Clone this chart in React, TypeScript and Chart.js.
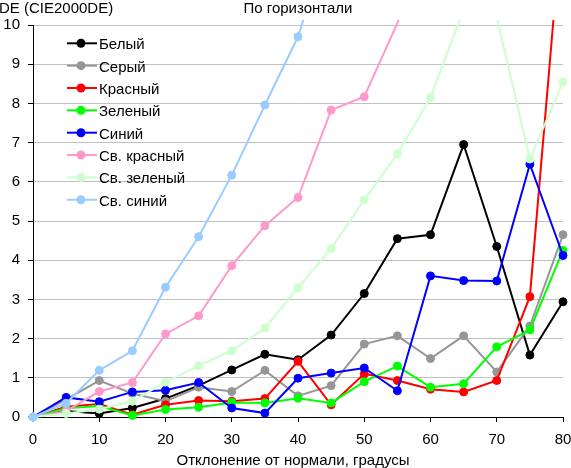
import { useEffect, useRef } from "react";
import { Chart, registerables, ChartConfiguration, Plugin } from "chart.js";

Chart.register(...registerables);

// углы отклонения, градусы
const angles = [0, 5, 10, 15, 20, 25, 30, 35, 40, 45, 50, 55, 60, 65, 70, 75, 80];

const seriesNames = [
	"Белый",
	"Серый",
	"Красный",
	"Зеленый",
	"Синий",
	"Св. красный",
	"Св. зеленый",
	"Св. синий",
];

const white = [0, 0.15, 0.09, 0.23, 0.47, 0.8, 1.2, 1.6, 1.46, 2.09, 3.15, 4.55, 4.65, 6.95, 4.35, 1.58, 2.94];
const gray = [0, 0.45, 0.93, 0.6, 0.4, 0.76, 0.65, 1.19, 0.54, 0.8, 1.86, 2.07, 1.49, 2.07, 1.15, 2.32, 4.65];
const red = [0, 0.26, 0.33, 0.06, 0.31, 0.42, 0.4, 0.47, 1.42, 0.31, 1.1, 0.93, 0.71, 0.64, 0.93, 3.07, 13];
const green = [0, 0.22, 0.28, 0.04, 0.19, 0.25, 0.37, 0.36, 0.48, 0.36, 0.9, 1.3, 0.76, 0.85, 1.79, 2.22, 4.25];
const blue = [0, 0.5, 0.39, 0.64, 0.68, 0.88, 0.23, 0.1, 0.99, 1.12, 1.25, 0.67, 3.6, 3.48, 3.47, 6.45, 4.12];
const lightRed = [0, 0.15, 0.65, 0.88, 2.12, 2.58, 3.86, 4.88, 5.6, 7.83, 8.17, 10.05, 12.5, null, null, null, null];
const lightGreen = [0, 0.09, 0.2, 0.4, 0.89, 1.31, 1.69, 2.27, 3.3, 4.3, 5.54, 6.71, 8.15, 10.4, 10.2, 6.58, 8.55];
const lightBlue = [0, 0.35, 1.19, 1.69, 3.31, 4.6, 6.17, 7.96, 9.7, 12.4, null, null, null, null, null, null, null];

const series = [white, gray, red, green, blue, lightRed, lightGreen, lightBlue];
const colors = ["#000000", "#969696", "#ff0000", "#00ff00", "#0000ff", "#ff99cc", "#ccffcc", "#99ccff"];

const yTicks = [0, 1, 2, 3, 4, 5, 6, 7, 8, 9, 10];

const FONT = '"Liberation Sans", Arial, sans-serif';

// подписи и легенда рисуем сами, чтобы стояли как в оригинале
const textPlugin: Plugin<"line"> = {
	id: "texts",
	afterDraw(chart) {
		const ctx = chart.ctx;
		ctx.save();
		ctx.font = `15px ${FONT}`;
		ctx.fillStyle = "#000";
		ctx.textBaseline = "alphabetic";

		ctx.textAlign = "left";
		ctx.fillText("DE (CIE2000DE)", -1, 13);
		ctx.textAlign = "center";
		ctx.fillText("По горизонтали", 298, 13);
		ctx.fillText("Отклонение от нормали, градусы", 293, 465);

		seriesNames.forEach((name, i) => {
			const y = 43.3 + i * 22.35;
			ctx.strokeStyle = colors[i];
			ctx.lineWidth = 2;
			ctx.beginPath();
			ctx.moveTo(67, y);
			ctx.lineTo(97, y);
			ctx.stroke();
			ctx.fillStyle = colors[i];
			ctx.beginPath();
			ctx.arc(81, y, 4.5, 0, Math.PI * 2);
			ctx.fill();
			ctx.fillStyle = "#000";
			ctx.textAlign = "left";
			ctx.fillText(name, 99, y + 6);
		});
		ctx.restore();
	},
};

const App = () => {
	const canvasRef = useRef<HTMLCanvasElement | null>(null);

	useEffect(() => {
		document.body.style.margin = "0";
		if (!canvasRef.current) return;

		const config: ChartConfiguration<"line"> = {
			type: "line",
			data: {
				datasets: series.map((values, i) => ({
					label: seriesNames[i],
					data: angles.map((a, j) => ({ x: a, y: values[j] as number })),
					borderColor: colors[i],
					backgroundColor: colors[i],
					borderWidth: 2,
					pointRadius: (c: any) => (c.raw && c.raw.y > 10 ? 0 : 4),
					pointBorderWidth: 1,
					pointBorderColor: colors[i],
					pointBackgroundColor: colors[i],
					tension: 0,
					spanGaps: false,
					order: series.length - i,
					clip: { left: 8, right: 8, top: 5, bottom: 8 },
				})),
			},
			options: {
				responsive: false,
				animation: false,
				layout: { padding: { left: 0, right: 8, top: 25, bottom: 0 } },
				plugins: {
					legend: { display: false },
					title: { display: false },
					tooltip: { enabled: false },
				},
				scales: {
					x: {
						type: "linear",
						min: 0,
						max: 80,
						ticks: {
							stepSize: 10,
							color: "#000",
							padding: 9,
							maxRotation: 0,
							font: { family: FONT, size: 15 },
						},
						grid: {
							drawOnChartArea: false,
							drawTicks: true,
							tickLength: 5,
							color: "#000",
							tickColor: "#000",
						},
						border: { color: "#000", width: 1 },
						afterFit: (s) => {
							s.height = 51;
							s.paddingLeft = 0;
							s.paddingRight = 0;
						},
					},
					y: {
						type: "linear",
						min: 0,
						max: 10,
						afterBuildTicks: (s) => {
							s.ticks = yTicks.map((v) => ({ value: v }));
						},
						ticks: {
							color: "#000",
							padding: 8,
							font: { family: FONT, size: 15 },
						},
						grid: {
							color: (c) => (c.tick && c.tick.value === 0 ? "rgba(0,0,0,0)" : "#c0c0c0"),
							tickColor: "#000",
							tickLength: 5,
							lineWidth: 1,
						},
						border: { color: "#000", width: 1 },
						afterFit: (s) => {
							s.width = 33;
							s.paddingTop = 0;
							s.paddingBottom = 0;
						},
					},
				},
			},
			plugins: [textPlugin],
		};

		const chart = new Chart(canvasRef.current, config);
		return () => {
			chart.destroy();
		};
	}, []);

	return (
		<div style={{ width: 571, height: 468, background: "#fff" }}>
			<canvas ref={canvasRef} width={571} height={468} />
		</div>
	);
};

export default App;
